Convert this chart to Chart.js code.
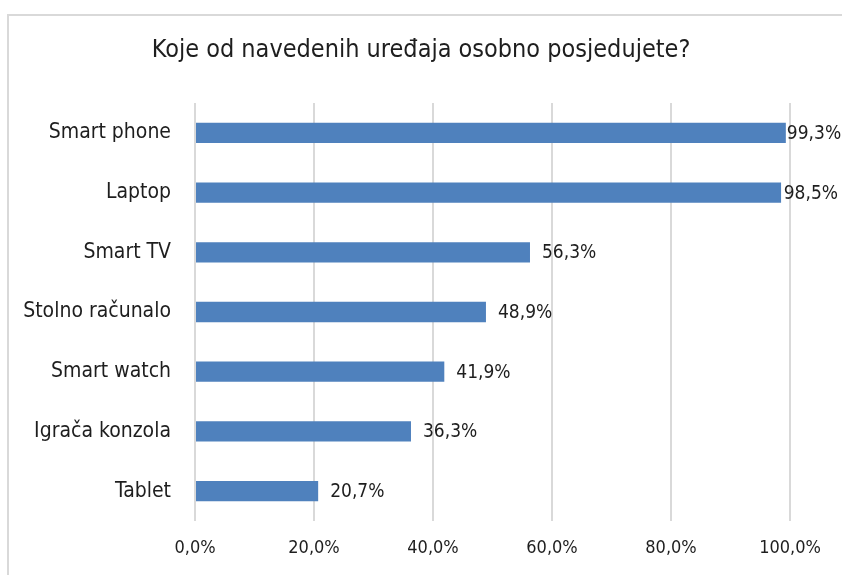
<!DOCTYPE html>
<html>
<head>
<meta charset="utf-8">
<script src="https://cdn.jsdelivr.net/npm/chart.js@4"></script>
<style>
  html, body { margin: 0; padding: 0; background: #fff; overflow: hidden; }
  #frame { position: absolute; left: 7px; top: 14px; width: 900px; height: 620px; border: 2px solid #d9d9d9; }
  #wrap { position: absolute; left: 0; top: 0; width: 842px; height: 575px; }
</style>
</head>
<body>
<div id="frame"></div>
<div id="wrap"><canvas id="devChart" width="842" height="575"></canvas></div>
<script>
// kategorije i postoci
const devices = ['Smart phone', 'Laptop', 'Smart TV', 'Stolno računalo', 'Smart watch', 'Igrača konzola', 'Tablet'];
const shares = [99.3, 98.5, 56.3, 48.9, 41.9, 36.3, 20.7];
const xTicks = [0, 20, 40, 60, 80, 100];

const FONT = '"Liberation Sans Narrow", "DejaVu Sans Condensed", sans-serif';
const TEXT = '#1e1e1e';

function fmt(v, d) {
    return v.toFixed(d).replace('.', ',') + '%';
}

// oznake vrijednosti desno od stupca
const valueLabels = {
    id: 'valueLabels',
    afterDatasetsDraw(chart) {
        const ctx = chart.ctx;
        const meta = chart.getDatasetMeta(0);
        ctx.save();
        ctx.font = '19px ' + FONT;
        ctx.fillStyle = TEXT;
        ctx.textBaseline = 'middle';
        ctx.textAlign = 'left';
        meta.data.forEach(function(bar, i) {
            const txt = fmt(shares[i], 1);
            const w = ctx.measureText(txt).width;
            const x = Math.max(bar.x + 1, Math.min(bar.x + 12, chart.width - 4 - w));
            ctx.fillText(txt, x, bar.y + 1);
        });
        ctx.restore();
    }
};

new Chart(document.getElementById('devChart').getContext('2d'), {
    type: 'bar',
    data: {
        labels: devices,
        datasets: [{
            data: shares,
            backgroundColor: '#4f81bd',
            borderWidth: 0,
            categoryPercentage: 1,
            barPercentage: 0.34
        }]
    },
    options: {
        indexAxis: 'y',
        responsive: false,
        animation: false,
        layout: { padding: 0 },
        plugins: {
            legend: { display: false },
            tooltip: { enabled: false },
            title: {
                display: true,
                text: 'Koje od navedenih uređaja osobno posjedujete?',
                color: TEXT,
                font: { family: FONT, size: 25, weight: 'normal' },
                padding: { top: 35, bottom: 38 }
            }
        },
        scales: {
            x: {
                min: 0,
                max: 100,
                afterBuildTicks: function(s) { s.ticks = xTicks.map(v => ({ value: v })); },
                afterFit: function(s) { s.height = 54; s.paddingRight = 52; },
                grid: { color: '#d9d9d9', lineWidth: 2, drawTicks: false },
                border: { display: false },
                ticks: {
                    color: TEXT,
                    font: { family: FONT, size: 18 },
                    padding: 17,
                    callback: v => fmt(v, 1)
                }
            },
            y: {
                grid: { display: false },
                border: { display: false },
                afterFit: function(s) { s.width = 195; },
                ticks: {
                    color: TEXT,
                    font: { family: FONT, size: 21 },
                    padding: 16
                }
            }
        }
    },
    plugins: [valueLabels]
});
</script>
</body>
</html>
